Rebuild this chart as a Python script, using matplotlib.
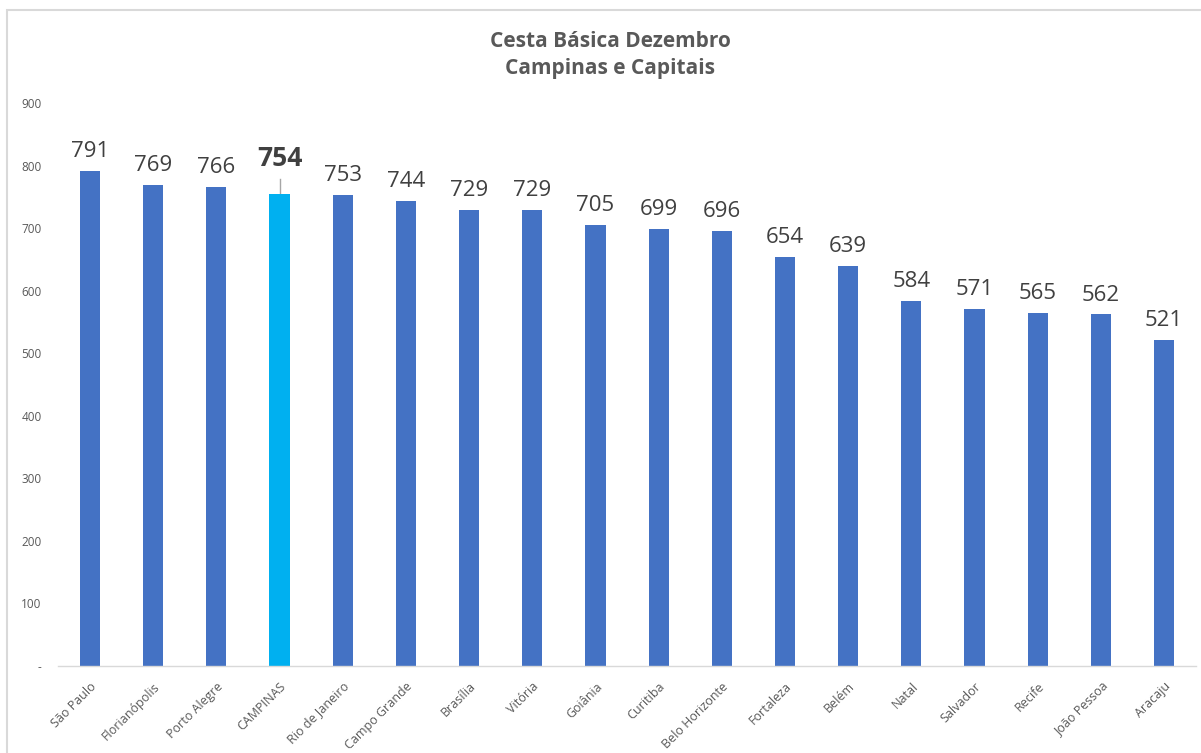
import matplotlib
matplotlib.use("Agg")
from matplotlib import pyplot as plt
from matplotlib.patches import Rectangle

cities = ["São Paulo", "Florianópolis", "Porto Alegre", "CAMPINAS", "Rio de Janeiro",
          "Campo Grande", "Brasília", "Vitória", "Goiânia", "Curitiba", "Belo Horizonte",
          "Fortaleza", "Belém", "Natal", "Salvador", "Recife", "João Pessoa", "Aracaju"]
values = [791, 769, 766, 754, 753, 744, 729, 729, 705, 699, 696, 654, 639, 584, 571, 565, 562, 521]
y_ticks = [0, 100, 200, 300, 400, 500, 600, 700, 800, 900]
y_tick_labels = ["-", "100", "200", "300", "400", "500", "600", "700", "800", "900"]
highlight = "CAMPINAS"

plt.rcParams['font.family'] = ['Open Sans', 'DejaVu Sans']
GRAY = "#595959"

fig = plt.figure(figsize=(12.01, 7.53), dpi=100)
ax = fig.add_axes([0.0486, 0.1155, 0.947, 0.7477])

colors = ["#00B0F0" if c == highlight else "#4472C4" for c in cities]
x = list(range(len(cities)))
ax.bar(x, values, width=0.32, color=colors, zorder=2)

for i, (c, v) in enumerate(zip(cities, values)):
    if c == highlight:
        # label pulled up with a leader line down to the bar
        ax.plot([i, i], [v, v + 24], color="#A6A6A6", lw=1, zorder=1)
        ax.text(i, v + 58, str(v), ha="center", va="center",
                fontsize=19, fontweight="bold", color="#404040")
    else:
        ax.text(i, v + 31, str(v), ha="center", va="center", fontsize=16, color="#404040")

ax.set_xlim(-0.5, len(cities) - 0.5)
ax.set_ylim(0, 900)
ax.set_yticks(y_ticks)
ax.set_yticklabels(y_tick_labels, fontsize=8.5, color=GRAY)
ax.set_xticks(x)
ax.set_xticklabels(cities, rotation=45, ha="right", rotation_mode="anchor",
                   fontsize=9, color=GRAY)
ax.tick_params(axis="both", length=0)
ax.tick_params(axis="y", pad=12)
ax.tick_params(axis="x", pad=10)
for side in ["top", "right", "left"]:
    ax.spines[side].set_visible(False)
ax.spines["bottom"].set_color("#D9D9D9")
ax.spines["bottom"].set_linewidth(1)

fig.text(0.508, 0.927, "Cesta Básica Dezembro\nCampinas e Capitais", ha="center", va="center",
         fontsize=15, fontweight="bold", color=GRAY, linespacing=1.35)

# chart border (runs off the right and bottom edges)
fig.patches.append(Rectangle((7 / 1201, -0.1), 1.2, 1 - 10 / 753 + 0.1,
                             transform=fig.transFigure, fill=False,
                             edgecolor="#D9D9D9", linewidth=1.5))

plt.savefig("out.png", dpi=100)
